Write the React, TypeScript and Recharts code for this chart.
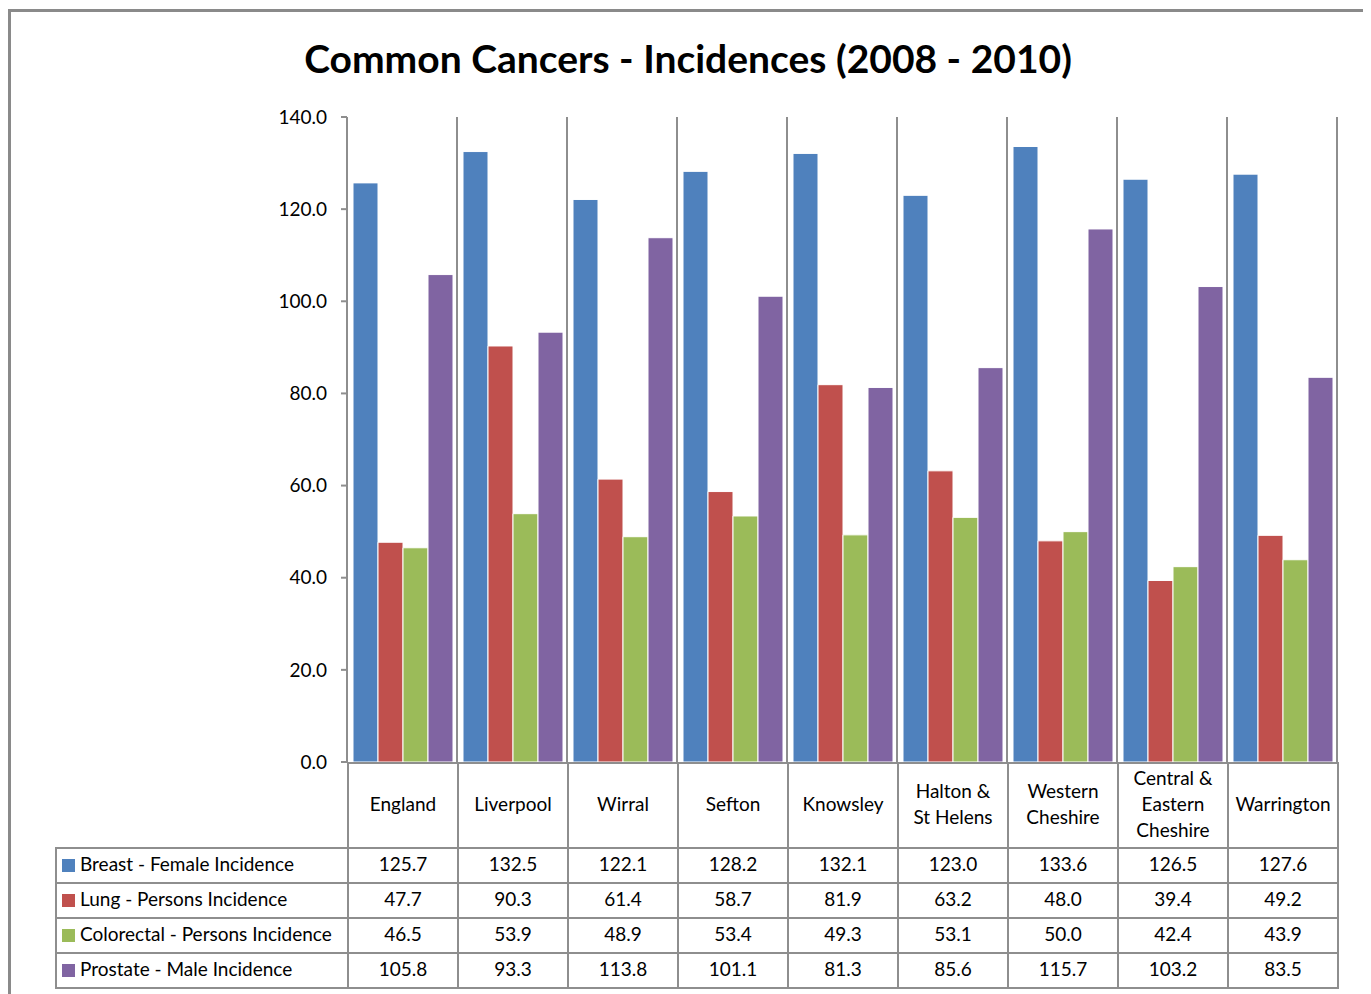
import { Bar, BarChart, CartesianGrid, XAxis, YAxis } from "recharts";

const categories = [
  "England",
  "Liverpool",
  "Wirral",
  "Sefton",
  "Knowsley",
  "Halton &\nSt Helens",
  "Western\nCheshire",
  "Central &\nEastern\nCheshire",
  "Warrington",
];

const breast = [125.7, 132.5, 122.1, 128.2, 132.1, 123.0, 133.6, 126.5, 127.6];
const lung = [47.7, 90.3, 61.4, 58.7, 81.9, 63.2, 48.0, 39.4, 49.2];
const colorectal = [46.5, 53.9, 48.9, 53.4, 49.3, 53.1, 50.0, 42.4, 43.9];
const prostate = [105.8, 93.3, 113.8, 101.1, 81.3, 85.6, 115.7, 103.2, 83.5];

const yTicks = [0, 20, 40, 60, 80, 100, 120, 140];

const seriesInfo = [
  { key: "breast", name: "Breast - Female Incidence", color: "#4F81BD", values: breast },
  { key: "lung", name: "Lung - Persons Incidence", color: "#C0504D", values: lung },
  { key: "colorectal", name: "Colorectal - Persons Incidence", color: "#9BBB59", values: colorectal },
  { key: "prostate", name: "Prostate - Male Incidence", color: "#8064A2", values: prostate },
];

const data = categories.map((name, i) => ({
  name,
  breast: breast[i],
  lung: lung[i],
  colorectal: colorectal[i],
  prostate: prostate[i],
}));

const GRID = "#8e8e8e";
const FONT = "Lato, 'Open Sans', sans-serif";

// layout (relative to the framed box)
const TABLE_LEFT = 44;
const LEGEND_W = 292;
const COL_W = 110;
const TABLE_TOP = 750;
const CAT_H = 85;
const ROW_H = 35;

const cell = (left: number, top: number, w: number, h: number): React.CSSProperties => ({
  position: "absolute",
  left,
  top,
  width: w + 2,
  height: h + 2,
  boxSizing: "border-box",
  border: `2px solid ${GRID}`,
  paddingBottom: 4,
  display: "flex",
  alignItems: "center",
  justifyContent: "center",
  textAlign: "center",
  fontSize: 19,
  lineHeight: "26px",
  color: "#000",
  whiteSpace: "pre-line",
});

const App = () => {
  const colLeft = (i: number) => TABLE_LEFT + LEGEND_W + i * COL_W;
  return (
    <div
      style={{
        position: "relative",
        width: 1360,
        height: 1000,
        marginTop: 1,
        border: "3px solid #8a8a8a",
        boxSizing: "border-box",
        fontFamily: FONT,
        background: "#fff",
      }}
    >
      <div
        style={{
          position: "absolute",
          top: 24,
          left: 0,
          width: 1354,
          textAlign: "center",
          fontSize: 39,
          lineHeight: "44px",
          fontWeight: 700,
          color: "#000",
        }}
      >
        Common Cancers - Incidences (2008 - 2010)
      </div>

      <div style={{ position: "absolute", left: 0, top: 0 }}>
        <BarChart
          width={1354}
          height={760}
          data={data}
          margin={{ top: 105, right: 28, bottom: 10, left: 0 }}
          barCategoryGap={6}
          barGap={0}
        >
          <CartesianGrid
            horizontal={false}
            stroke={GRID}
            strokeWidth={2}
            verticalCoordinatesGenerator={({ offset }: any) =>
              categories.map((_, i) => offset.left + ((i + 1) * offset.width) / categories.length)
            }
          />
          <XAxis dataKey="name" hide />
          <YAxis
            width={336}
            domain={[0, 140]}
            ticks={yTicks}
            interval={0}
            tickFormatter={(v: number) => v.toFixed(1)}
            axisLine={{ stroke: GRID, strokeWidth: 2 }}
            tickLine={{ stroke: GRID, strokeWidth: 2 }}
            tickSize={6}
            tickMargin={14}
            tick={{ fill: "#000", fontSize: 19, fontFamily: FONT }}
          />
          {seriesInfo.map((s) => (
            <Bar
              key={s.key}
              dataKey={s.key}
              name={s.name}
              fill={s.color}
              stroke="#fff"
              strokeWidth={1}
              isAnimationActive={false}
            />
          ))}
        </BarChart>
      </div>

      {categories.map((c, i) => (
        <div key={c} style={cell(colLeft(i), TABLE_TOP, COL_W, CAT_H)}>
          {c}
        </div>
      ))}

      {seriesInfo.map((s, r) => {
        const top = TABLE_TOP + CAT_H + r * ROW_H;
        return (
          <div key={s.key}>
            <div
              style={{
                ...cell(TABLE_LEFT, top, LEGEND_W, ROW_H),
                justifyContent: "flex-start",
                paddingLeft: 5,
              }}
            >
              <span
                style={{
                  display: "inline-block",
                  width: 13,
                  height: 13,
                  background: s.color,
                  marginRight: 5,
                  marginTop: 3,
                }}
              />
              {s.name}
            </div>
            {s.values.map((v, i) => (
              <div key={i} style={cell(colLeft(i), top, COL_W, ROW_H)}>
                {v.toFixed(1)}
              </div>
            ))}
          </div>
        );
      })}
    </div>
  );
};

export default App;
